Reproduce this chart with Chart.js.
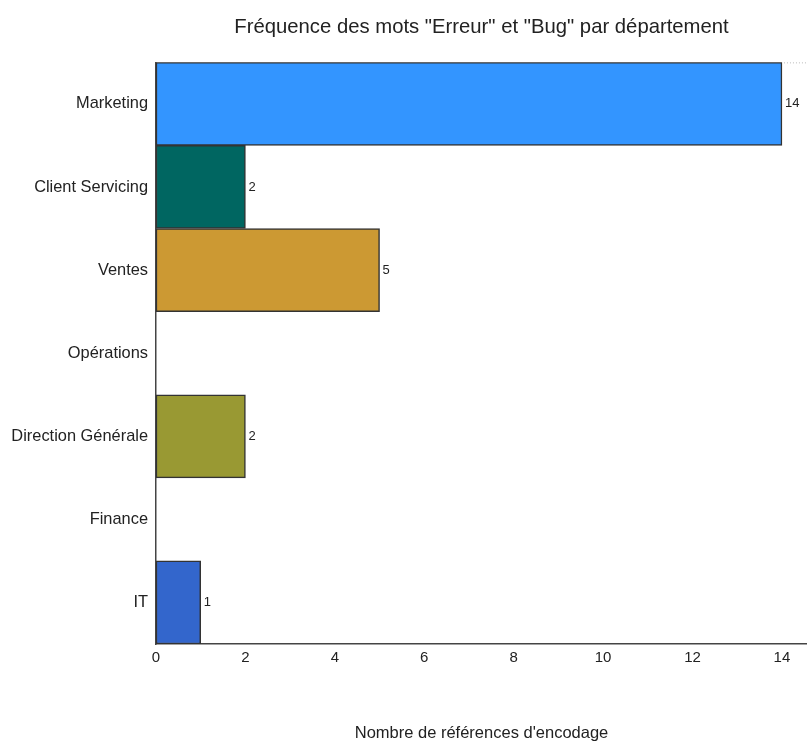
<!DOCTYPE html>
<html>
<head>
<meta charset="utf-8">
<script src="https://cdn.jsdelivr.net/npm/chart.js@4"></script>
<style>
  html, body { margin: 0; padding: 0; background: #fff; }
  #wrap { width: 807px; height: 743px; }
</style>
</head>
<body>
<div id="wrap"><canvas id="chart"></canvas></div>
<script>
// Data
const departments = ['Marketing', 'Client Servicing', 'Ventes', 'Opérations', 'Direction Générale', 'Finance', 'IT'];
const counts = [14, 2, 5, null, 2, null, 1];
const barColors = ['#3395ff', '#006661', '#cc9933', '#ffffff', '#999933', '#ffffff', '#3366cc'];
const xTicks = [0, 2, 4, 6, 8, 10, 12, 14];

const FONT = "'Liberation Sans', Arial, sans-serif";

// value labels at the end of each bar
const valueLabels = {
  id: 'valueLabels',
  afterDatasetsDraw(chart) {
    const ctx = chart.ctx;
    const meta = chart.getDatasetMeta(0);
    ctx.save();
    ctx.font = '13px ' + FONT;
    ctx.fillStyle = '#222';
    ctx.textBaseline = 'middle';
    meta.data.forEach((bar, i) => {
      if (counts[i] == null) return;
      ctx.fillText(String(counts[i]), bar.x + 3, bar.y);
    });
    // faint dotted line continuing the top of the plot
    const area = chart.chartArea;
    const xEnd = chart.scales.x.getPixelForValue(14);
    ctx.strokeStyle = '#bbb';
    ctx.lineWidth = 1;
    ctx.setLineDash([1, 2]);
    ctx.beginPath();
    ctx.moveTo(xEnd + 2, area.top + 0.5);
    ctx.lineTo(area.right, area.top + 0.5);
    ctx.stroke();
    ctx.restore();
  }
};

// keep the title centered over the plot area
const centerTitle = {
  id: 'centerTitle',
  afterLayout(chart) {
    if (chart.titleBlock) {
      chart.titleBlock.left = chart.chartArea.left;
      chart.titleBlock.right = chart.chartArea.right;
    }
  }
};

new Chart(document.getElementById('chart'), {
  type: 'bar',
  data: {
    labels: departments,
    datasets: [{
      data: counts,
      backgroundColor: barColors,
      borderColor: '#333333',
      borderWidth: 1.5,
      borderSkipped: false,
      barPercentage: 1,
      categoryPercentage: 1
    }]
  },
  options: {
    indexAxis: 'y',
    responsive: true,
    maintainAspectRatio: false,
    animation: false,
    layout: { padding: 0 },
    scales: {
      x: {
        min: 0,
        max: 14.56,
        afterBuildTicks(scale) {
          scale.ticks = xTicks.map(v => ({ value: v }));
        },
        afterFit(scale) { scale.height = 99; },
        grid: { display: false, drawTicks: false },
        border: { display: true, color: '#444', width: 1.5 },
        ticks: {
          color: '#222',
          padding: 5,
          maxRotation: 0,
          font: { family: FONT, size: 15 }
        },
        title: {
          display: true,
          text: "Nombre de références d'encodage",
          color: '#222',
          font: { family: FONT, size: 16.5 },
          padding: { top: 0, bottom: 0 }
        }
      },
      y: {
        afterFit(scale) { scale.width = 156; },
        grid: { display: false, drawTicks: false },
        border: { display: true, color: '#444', width: 1.5 },
        ticks: {
          color: '#222',
          padding: 8,
          font: { family: FONT, size: 16.4 }
        }
      }
    },
    plugins: {
      legend: { display: false },
      tooltip: { enabled: false },
      title: {
        display: true,
        text: 'Fréquence des mots "Erreur" et "Bug" par département',
        color: '#222',
        font: { family: FONT, size: 20.3, weight: 'normal' },
        padding: { top: 15, bottom: 23 }
      }
    }
  },
  plugins: [valueLabels, centerTitle]
});
</script>
</body>
</html>
